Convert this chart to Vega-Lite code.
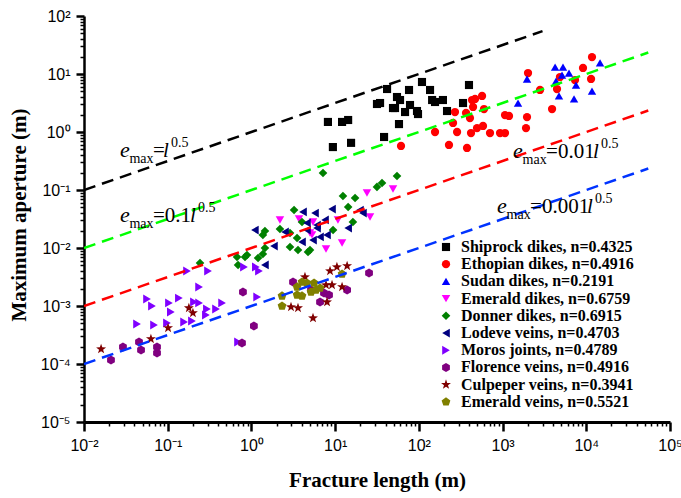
{
  "$schema": "https://vega.github.io/schema/vega-lite/v6.json",
  "width": 586,
  "height": 406,
  "autosize": {"type": "none"},
  "padding": {"left": 84, "top": 16, "right": 11, "bottom": 76},
  "background": "white",
  "config": {
    "view": {"stroke": null},
    "axis": {"domainColor": "black", "tickColor": "black", "labelColor": "black", "labelFont": "Liberation Sans", "labelFontSize": 16, "titleFont": "Liberation Serif", "titleFontSize": 21, "titleFontWeight": "bold", "titleColor": "black", "grid": false, "labelOverlap": false, "labelFlush": false},
    "legend": {"orient": "none", "legendX": 354, "legendY": 223, "padding": 0, "rowPadding": 1.2, "labelFont": "Liberation Serif", "labelFontWeight": "bold", "labelFontSize": 16, "labelColor": "black", "labelOffset": 7, "labelLimit": 0, "symbolStrokeWidth": 0}
  },
  "datasets": {
    "points": [
      {"s": "Shiprock dikes, n=0.4325", "l": 8.2, "e": 1.49},
      {"s": "Shiprock dikes, n=0.4325", "l": 9.4, "e": 0.55},
      {"s": "Shiprock dikes, n=0.4325", "l": 12.1, "e": 1.49},
      {"s": "Shiprock dikes, n=0.4325", "l": 14.3, "e": 1.61},
      {"s": "Shiprock dikes, n=0.4325", "l": 15.5, "e": 0.65},
      {"s": "Shiprock dikes, n=0.4325", "l": 31.6, "e": 3.04},
      {"s": "Shiprock dikes, n=0.4325", "l": 34.4, "e": 3.16},
      {"s": "Shiprock dikes, n=0.4325", "l": 41.7, "e": 5.51},
      {"s": "Shiprock dikes, n=0.4325", "l": 38.4, "e": 0.82},
      {"s": "Shiprock dikes, n=0.4325", "l": 51.9, "e": 2.59},
      {"s": "Shiprock dikes, n=0.4325", "l": 54.8, "e": 4.01},
      {"s": "Shiprock dikes, n=0.4325", "l": 57.9, "e": 1.37},
      {"s": "Shiprock dikes, n=0.4325", "l": 59.6, "e": 3.56},
      {"s": "Shiprock dikes, n=0.4325", "l": 68.4, "e": 2.21},
      {"s": "Shiprock dikes, n=0.4325", "l": 76.3, "e": 5.3},
      {"s": "Shiprock dikes, n=0.4325", "l": 78.4, "e": 2.92},
      {"s": "Shiprock dikes, n=0.4325", "l": 95, "e": 2.3},
      {"s": "Shiprock dikes, n=0.4325", "l": 97.7, "e": 2.04},
      {"s": "Shiprock dikes, n=0.4325", "l": 109, "e": 7.28},
      {"s": "Shiprock dikes, n=0.4325", "l": 136, "e": 5.3},
      {"s": "Shiprock dikes, n=0.4325", "l": 144, "e": 3.56},
      {"s": "Shiprock dikes, n=0.4325", "l": 156, "e": 3.29},
      {"s": "Shiprock dikes, n=0.4325", "l": 194, "e": 3.56},
      {"s": "Shiprock dikes, n=0.4325", "l": 217, "e": 2.3},
      {"s": "Shiprock dikes, n=0.4325", "l": 337, "e": 3.16},
      {"s": "Shiprock dikes, n=0.4325", "l": 397, "e": 6.46},
      {"s": "Shiprock dikes, n=0.4325", "l": 49.1, "e": 2.59},
      {"s": "Ethopian dikes, n=0.4916", "l": 61.2, "e": 0.574},
      {"s": "Ethopian dikes, n=0.4916", "l": 156, "e": 1.0},
      {"s": "Ethopian dikes, n=0.4916", "l": 229, "e": 0.597},
      {"s": "Ethopian dikes, n=0.4916", "l": 270, "e": 2.21},
      {"s": "Ethopian dikes, n=0.4916", "l": 256, "e": 1.43},
      {"s": "Ethopian dikes, n=0.4916", "l": 286, "e": 1.0},
      {"s": "Ethopian dikes, n=0.4916", "l": 376, "e": 0.53},
      {"s": "Ethopian dikes, n=0.4916", "l": 366, "e": 2.13},
      {"s": "Ethopian dikes, n=0.4916", "l": 408, "e": 1.74},
      {"s": "Ethopian dikes, n=0.4916", "l": 420, "e": 0.96},
      {"s": "Ethopian dikes, n=0.4916", "l": 432, "e": 3.56},
      {"s": "Ethopian dikes, n=0.4916", "l": 469, "e": 3.71},
      {"s": "Ethopian dikes, n=0.4916", "l": 444, "e": 2.7},
      {"s": "Ethopian dikes, n=0.4916", "l": 569, "e": 4.18},
      {"s": "Ethopian dikes, n=0.4916", "l": 600, "e": 2.49},
      {"s": "Ethopian dikes, n=0.4916", "l": 495, "e": 1.17},
      {"s": "Ethopian dikes, n=0.4916", "l": 584, "e": 1.27},
      {"s": "Ethopian dikes, n=0.4916", "l": 708, "e": 0.96},
      {"s": "Ethopian dikes, n=0.4916", "l": 933, "e": 0.96},
      {"s": "Ethopian dikes, n=0.4916", "l": 1069, "e": 0.96},
      {"s": "Ethopian dikes, n=0.4916", "l": 1069, "e": 1.96},
      {"s": "Ethopian dikes, n=0.4916", "l": 1194, "e": 1.89},
      {"s": "Ethopian dikes, n=0.4916", "l": 1959, "e": 1.81},
      {"s": "Ethopian dikes, n=0.4916", "l": 1905, "e": 1.17},
      {"s": "Ethopian dikes, n=0.4916", "l": 2014, "e": 10.4},
      {"s": "Ethopian dikes, n=0.4916", "l": 2800, "e": 5.3},
      {"s": "Ethopian dikes, n=0.4916", "l": 3900, "e": 2.49},
      {"s": "Ethopian dikes, n=0.4916", "l": 4470, "e": 5.51},
      {"s": "Ethopian dikes, n=0.4916", "l": 4850, "e": 8.87},
      {"s": "Ethopian dikes, n=0.4916", "l": 7330, "e": 7.88},
      {"s": "Ethopian dikes, n=0.4916", "l": 9140, "e": 12.7},
      {"s": "Ethopian dikes, n=0.4916", "l": 11400, "e": 8.2},
      {"s": "Ethopian dikes, n=0.4916", "l": 11700, "e": 19.6},
      {"s": "Sudan dikes, n=0.2191", "l": 1530, "e": 3.16},
      {"s": "Sudan dikes, n=0.2191", "l": 1959, "e": 8.2},
      {"s": "Sudan dikes, n=0.2191", "l": 4240, "e": 13.2},
      {"s": "Sudan dikes, n=0.2191", "l": 5270, "e": 13.2},
      {"s": "Sudan dikes, n=0.2191", "l": 6220, "e": 10.4},
      {"s": "Sudan dikes, n=0.2191", "l": 4350, "e": 7.57},
      {"s": "Sudan dikes, n=0.2191", "l": 5130, "e": 9.6},
      {"s": "Sudan dikes, n=0.2191", "l": 7540, "e": 6.46},
      {"s": "Sudan dikes, n=0.2191", "l": 4720, "e": 4.18},
      {"s": "Sudan dikes, n=0.2191", "l": 7140, "e": 3.71},
      {"s": "Sudan dikes, n=0.2191", "l": 11700, "e": 5.09},
      {"s": "Sudan dikes, n=0.2191", "l": 14600, "e": 15.5},
      {"s": "Emerald dikes, n=0.6759", "l": 2.19, "e": 0.0304},
      {"s": "Emerald dikes, n=0.6759", "l": 3.7, "e": 0.0316},
      {"s": "Emerald dikes, n=0.6759", "l": 5.3, "e": 0.0168},
      {"s": "Emerald dikes, n=0.6759", "l": 5.44, "e": 0.0281},
      {"s": "Emerald dikes, n=0.6759", "l": 24, "e": 0.0888},
      {"s": "Emerald dikes, n=0.6759", "l": 49.1, "e": 0.104},
      {"s": "Emerald dikes, n=0.6759", "l": 10.8, "e": 0.0304},
      {"s": "Emerald dikes, n=0.6759", "l": 26.1, "e": 0.0342},
      {"s": "Emerald dikes, n=0.6759", "l": 5.01, "e": 0.0181},
      {"s": "Emerald dikes, n=0.6759", "l": 12.1, "e": 0.0122},
      {"s": "Emerald dikes, n=0.6759", "l": 7.78, "e": 0.0096},
      {"s": "Donner dikes, n=0.6915", "l": 3.23, "e": 0.0452},
      {"s": "Donner dikes, n=0.6915", "l": 1.45, "e": 0.0196},
      {"s": "Donner dikes, n=0.6915", "l": 1.37, "e": 0.0168},
      {"s": "Donner dikes, n=0.6915", "l": 2.19, "e": 0.0213},
      {"s": "Donner dikes, n=0.6915", "l": 2.89, "e": 0.0104},
      {"s": "Donner dikes, n=0.6915", "l": 3.6, "e": 0.00924},
      {"s": "Donner dikes, n=0.6915", "l": 4.74, "e": 0.00853},
      {"s": "Donner dikes, n=0.6915", "l": 0.885, "e": 0.00757},
      {"s": "Donner dikes, n=0.6915", "l": 0.673, "e": 0.007},
      {"s": "Donner dikes, n=0.6915", "l": 1.45, "e": 0.01},
      {"s": "Donner dikes, n=0.6915", "l": 1.37, "e": 0.00788},
      {"s": "Donner dikes, n=0.6915", "l": 4.02, "e": 0.0281},
      {"s": "Donner dikes, n=0.6915", "l": 3.51, "e": 0.0149},
      {"s": "Donner dikes, n=0.6915", "l": 2.89, "e": 0.0181},
      {"s": "Donner dikes, n=0.6915", "l": 7.16, "e": 0.196},
      {"s": "Donner dikes, n=0.6915", "l": 54.8, "e": 0.174},
      {"s": "Donner dikes, n=0.6915", "l": 31.6, "e": 0.113},
      {"s": "Donner dikes, n=0.6915", "l": 36.3, "e": 0.132},
      {"s": "Donner dikes, n=0.6915", "l": 12.4, "e": 0.0788},
      {"s": "Donner dikes, n=0.6915", "l": 17.3, "e": 0.0728},
      {"s": "Donner dikes, n=0.6915", "l": 14.3, "e": 0.0509},
      {"s": "Donner dikes, n=0.6915", "l": 16.3, "e": 0.0281},
      {"s": "Donner dikes, n=0.6915", "l": 9.44, "e": 0.0204},
      {"s": "Donner dikes, n=0.6915", "l": 5.01, "e": 0.00924},
      {"s": "Donner dikes, n=0.6915", "l": 0.243, "e": 0.0055},
      {"s": "Donner dikes, n=0.6915", "l": 0.692, "e": 0.0051},
      {"s": "Donner dikes, n=0.6915", "l": 0.838, "e": 0.007},
      {"s": "Donner dikes, n=0.6915", "l": 1.2, "e": 0.00673},
      {"s": "Lodeve veins, n=0.4703", "l": 1.1, "e": 0.0204},
      {"s": "Lodeve veins, n=0.4703", "l": 1.86, "e": 0.0108},
      {"s": "Lodeve veins, n=0.4703", "l": 2.52, "e": 0.0189},
      {"s": "Lodeve veins, n=0.4703", "l": 4.13, "e": 0.0418},
      {"s": "Lodeve veins, n=0.4703", "l": 5.75, "e": 0.0401},
      {"s": "Lodeve veins, n=0.4703", "l": 4.61, "e": 0.027},
      {"s": "Lodeve veins, n=0.4703", "l": 4.02, "e": 0.0127},
      {"s": "Lodeve veins, n=0.4703", "l": 5.44, "e": 0.0137},
      {"s": "Lodeve veins, n=0.4703", "l": 4.61, "e": 0.0204},
      {"s": "Lodeve veins, n=0.4703", "l": 6.07, "e": 0.0249},
      {"s": "Lodeve veins, n=0.4703", "l": 9.18, "e": 0.047},
      {"s": "Lodeve veins, n=0.4703", "l": 19.8, "e": 0.0452},
      {"s": "Lodeve veins, n=0.4703", "l": 21.5, "e": 0.0401},
      {"s": "Lodeve veins, n=0.4703", "l": 7.57, "e": 0.0304},
      {"s": "Lodeve veins, n=0.4703", "l": 6.07, "e": 0.0221},
      {"s": "Lodeve veins, n=0.4703", "l": 8.0, "e": 0.0168},
      {"s": "Lodeve veins, n=0.4703", "l": 14.3, "e": 0.0221},
      {"s": "Lodeve veins, n=0.4703", "l": 6.6, "e": 0.0155},
      {"s": "Lodeve veins, n=0.4703", "l": 1.45, "e": 0.0051},
      {"s": "Moros joints, n=0.4789", "l": 0.17, "e": 0.00401},
      {"s": "Moros joints, n=0.4789", "l": 0.303, "e": 0.00401},
      {"s": "Moros joints, n=0.4789", "l": 0.237, "e": 0.00213},
      {"s": "Moros joints, n=0.4789", "l": 0.0566, "e": 0.00132},
      {"s": "Moros joints, n=0.4789", "l": 0.0649, "e": 0.001},
      {"s": "Moros joints, n=0.4789", "l": 0.1035, "e": 0.00113},
      {"s": "Moros joints, n=0.4789", "l": 0.136, "e": 0.00137},
      {"s": "Moros joints, n=0.4789", "l": 0.109, "e": 0.000788},
      {"s": "Moros joints, n=0.4789", "l": 0.206, "e": 0.00117},
      {"s": "Moros joints, n=0.4789", "l": 0.237, "e": 0.00113},
      {"s": "Moros joints, n=0.4789", "l": 0.294, "e": 0.000887},
      {"s": "Moros joints, n=0.4789", "l": 0.378, "e": 0.000887},
      {"s": "Moros joints, n=0.4789", "l": 0.446, "e": 0.00113},
      {"s": "Moros joints, n=0.4789", "l": 0.286, "e": 0.0007},
      {"s": "Moros joints, n=0.4789", "l": 0.043, "e": 0.00049},
      {"s": "Moros joints, n=0.4789", "l": 0.0686, "e": 0.00047},
      {"s": "Moros joints, n=0.4789", "l": 0.098, "e": 0.00051},
      {"s": "Moros joints, n=0.4789", "l": 0.157, "e": 0.00053},
      {"s": "Moros joints, n=0.4789", "l": 0.195, "e": 0.00055},
      {"s": "Moros joints, n=0.4789", "l": 0.692, "e": 0.000239},
      {"s": "Moros joints, n=0.4789", "l": 1.17, "e": 0.00143},
      {"s": "Moros joints, n=0.4789", "l": 0.815, "e": 0.0047},
      {"s": "Moros joints, n=0.4789", "l": 1.13, "e": 0.0047},
      {"s": "Moros joints, n=0.4789", "l": 1.23, "e": 0.00401},
      {"s": "Florence veins, n=0.4916", "l": 0.021, "e": 0.000117},
      {"s": "Florence veins, n=0.4916", "l": 0.0292, "e": 0.000196},
      {"s": "Florence veins, n=0.4916", "l": 0.0454, "e": 0.000239},
      {"s": "Florence veins, n=0.4916", "l": 0.048, "e": 0.000174},
      {"s": "Florence veins, n=0.4916", "l": 0.0745, "e": 0.000196},
      {"s": "Florence veins, n=0.4916", "l": 0.0745, "e": 0.000155},
      {"s": "Florence veins, n=0.4916", "l": 0.792, "e": 0.00174},
      {"s": "Florence veins, n=0.4916", "l": 0.771, "e": 0.00023},
      {"s": "Florence veins, n=0.4916", "l": 1.07, "e": 0.000452},
      {"s": "Florence veins, n=0.4916", "l": 3.14, "e": 0.00259},
      {"s": "Florence veins, n=0.4916", "l": 5.15, "e": 0.00189},
      {"s": "Florence veins, n=0.4916", "l": 6.6, "e": 0.00117},
      {"s": "Florence veins, n=0.4916", "l": 7.36, "e": 0.00168},
      {"s": "Florence veins, n=0.4916", "l": 8.45, "e": 0.00155},
      {"s": "Florence veins, n=0.4916", "l": 13.9, "e": 0.00189},
      {"s": "Florence veins, n=0.4916", "l": 25.4, "e": 0.00371},
      {"s": "Culpeper veins, n=0.3941", "l": 0.016, "e": 0.000181},
      {"s": "Culpeper veins, n=0.3941", "l": 0.063, "e": 0.00027},
      {"s": "Culpeper veins, n=0.3941", "l": 0.101, "e": 0.000418},
      {"s": "Culpeper veins, n=0.3941", "l": 0.179, "e": 0.000924},
      {"s": "Culpeper veins, n=0.3941", "l": 0.2, "e": 0.000757},
      {"s": "Culpeper veins, n=0.3941", "l": 2.97, "e": 0.00096},
      {"s": "Culpeper veins, n=0.3941", "l": 3.6, "e": 0.000924},
      {"s": "Culpeper veins, n=0.3941", "l": 5.44, "e": 0.00062},
      {"s": "Culpeper veins, n=0.3941", "l": 4.36, "e": 0.00316},
      {"s": "Culpeper veins, n=0.3941", "l": 8.0, "e": 0.00117},
      {"s": "Culpeper veins, n=0.3941", "l": 8.69, "e": 0.00401},
      {"s": "Culpeper veins, n=0.3941", "l": 10.5, "e": 0.0047},
      {"s": "Culpeper veins, n=0.3941", "l": 13.9, "e": 0.0049},
      {"s": "Culpeper veins, n=0.3941", "l": 7.78, "e": 0.0023},
      {"s": "Culpeper veins, n=0.3941", "l": 9.18, "e": 0.0023},
      {"s": "Culpeper veins, n=0.3941", "l": 12.1, "e": 0.00213},
      {"s": "Emerald veins, n=0.5521", "l": 2.32, "e": 0.00149},
      {"s": "Emerald veins, n=0.5521", "l": 2.32, "e": 0.001},
      {"s": "Emerald veins, n=0.5521", "l": 3.51, "e": 0.00213},
      {"s": "Emerald veins, n=0.5521", "l": 4.02, "e": 0.00259},
      {"s": "Emerald veins, n=0.5521", "l": 3.51, "e": 0.00155},
      {"s": "Emerald veins, n=0.5521", "l": 4.02, "e": 0.00149},
      {"s": "Emerald veins, n=0.5521", "l": 4.61, "e": 0.00249},
      {"s": "Emerald veins, n=0.5521", "l": 5.6, "e": 0.00249},
      {"s": "Emerald veins, n=0.5521", "l": 5.9, "e": 0.00189},
      {"s": "Emerald veins, n=0.5521", "l": 6.6, "e": 0.00204},
      {"s": "Emerald veins, n=0.5521", "l": 12.1, "e": 0.00356},
      {"s": "Emerald veins, n=0.5521", "l": 5.15, "e": 0.00174}
    ],
    "lines": [
      {"fit": "l^0.5", "l": 0.01, "e": 0.1},
      {"fit": "l^0.5", "l": 3000, "e": 54.77},
      {"fit": "0.1l^0.5", "l": 0.01, "e": 0.01},
      {"fit": "0.1l^0.5", "l": 55000, "e": 23.45},
      {"fit": "0.01l^0.5", "l": 0.01, "e": 0.001},
      {"fit": "0.01l^0.5", "l": 55000, "e": 2.345},
      {"fit": "0.001l^0.5", "l": 0.01, "e": 0.0001},
      {"fit": "0.001l^0.5", "l": 55000, "e": 0.2345}
    ],
    "ann": [
      {"l": 0.0269, "e": 0.371, "coef": "="},
      {"l": 0.0269, "e": 0.0281, "coef": "=0.1"},
      {"l": 1334, "e": 0.356, "coef": "=0.01"},
      {"l": 859, "e": 0.0401, "coef": "=0.001"}
    ],
    "annl": [
      {"l": 0.088, "e": 0.371},
      {"l": 0.1846, "e": 0.0281},
      {"l": 12030, "e": 0.356},
      {"l": 10200, "e": 0.0401}
    ]
  },
  "encoding": {
    "x": {
      "field": "l", "type": "quantitative",
      "scale": {"type": "log", "domain": [0.01, 100000], "nice": false},
      "axis": {
        "title": "Fracture length (m)",
        "values": [0.01,0.02,0.03,0.04,0.05,0.06,0.07,0.08,0.09,0.1,0.2,0.3,0.4,0.5,0.6,0.7,0.8,0.9,1,2,3,4,5,6,7,8,9,10,20,30,40,50,60,70,80,90,100,200,300,400,500,600,700,800,900,1000,2000,3000,4000,5000,6000,7000,8000,9000,10000,20000,30000,40000,50000,60000,70000,80000,90000,100000],
        "labelExpr": "datum.value == 0.01 ? '10⁻²' : datum.value == 0.1 ? '10⁻¹' : datum.value == 1 ? '10⁰' : datum.value == 10 ? '10¹' : datum.value == 100 ? '10²' : datum.value == 1000 ? '10³' : datum.value == 10000 ? '10⁴' : datum.value == 100000 ? '10⁵' : ''",
        "tickSize": {"condition": {"test": "abs(log(datum.value)/LN10 - round(log(datum.value)/LN10)) < 0.001", "value": 9}, "value": 4},
        "tickWidth": {"condition": {"test": "abs(log(datum.value)/LN10 - round(log(datum.value)/LN10)) < 0.001", "value": 2.5}, "value": 1.5},
        "domainWidth": 3,
        "labelPadding": 6,
        "titleY": 64,
        "titleBaseline": "alphabetic"
      }
    },
    "y": {
      "field": "e", "type": "quantitative",
      "scale": {"type": "log", "domain": [0.00001, 100], "nice": false},
      "axis": {
        "title": "Maximum aperture (m)",
        "values": [0.00001,0.00002,0.00003,0.00004,0.00005,0.00006,0.00007,0.00008,0.00009,0.0001,0.0002,0.0003,0.0004,0.0005,0.0006,0.0007,0.0008,0.0009,0.001,0.002,0.003,0.004,0.005,0.006,0.007,0.008,0.009,0.01,0.02,0.03,0.04,0.05,0.06,0.07,0.08,0.09,0.1,0.2,0.3,0.4,0.5,0.6,0.7,0.8,0.9,1,2,3,4,5,6,7,8,9,10,20,30,40,50,60,70,80,90,100],
        "labelExpr": "datum.value == 0.00001 ? '10⁻⁵' : datum.value == 0.0001 ? '10⁻⁴' : datum.value == 0.001 ? '10⁻³' : datum.value == 0.01 ? '10⁻²' : datum.value == 0.1 ? '10⁻¹' : datum.value == 1 ? '10⁰' : datum.value == 10 ? '10¹' : datum.value == 100 ? '10²' : ''",
        "tickSize": {"condition": {"test": "abs(log(datum.value)/LN10 - round(log(datum.value)/LN10)) < 0.001", "value": 8}, "value": 4},
        "tickWidth": {"condition": {"test": "abs(log(datum.value)/LN10 - round(log(datum.value)/LN10)) < 0.001", "value": 2.5}, "value": 1.5},
        "domainWidth": 2.5,
        "labelPadding": 6,
        "titleX": -59,
        "titleY": 198.5,
        "titleAngle": -90,
        "titleAlign": "center",
        "titleBaseline": "alphabetic"
      }
    }
  },
  "layer": [
    {
      "data": {"name": "points"},
      "mark": {"type": "point", "filled": true, "opacity": 1, "strokeWidth": 0},
      "encoding": {
        "color": {
          "field": "s", "type": "nominal", "title": null,
          "scale": {
            "domain": ["Shiprock dikes, n=0.4325", "Ethopian dikes, n=0.4916", "Sudan dikes, n=0.2191", "Emerald dikes, n=0.6759", "Donner dikes, n=0.6915", "Lodeve veins, n=0.4703", "Moros joints, n=0.4789", "Florence veins, n=0.4916", "Culpeper veins, n=0.3941", "Emerald veins, n=0.5521"],
            "range": ["#000000", "#ff0000", "#0000ff", "#ff00ff", "#008000", "#000080", "#8000ff", "#800080", "#800000", "#808000"]
          }
        },
        "shape": {
          "field": "s", "type": "nominal", "title": null,
          "scale": {
            "domain": ["Shiprock dikes, n=0.4325", "Ethopian dikes, n=0.4916", "Sudan dikes, n=0.2191", "Emerald dikes, n=0.6759", "Donner dikes, n=0.6915", "Lodeve veins, n=0.4703", "Moros joints, n=0.4789", "Florence veins, n=0.4916", "Culpeper veins, n=0.3941", "Emerald veins, n=0.5521"],
            "range": ["square", "circle", "triangle-up", "triangle-down", "diamond", "triangle-left", "triangle-right", "M0,-1L0.866,-0.5L0.866,0.5L0,1L-0.866,0.5L-0.866,-0.5Z", "M0,-1.15L0.27,-0.37L1.09,-0.36L0.44,0.14L0.68,0.93L0,0.46L-0.68,0.93L-0.44,0.14L-1.09,-0.36L-0.27,-0.37Z", "M0,-1L0.951,-0.309L0.588,0.809L-0.588,0.809L-0.951,-0.309Z"]
          }
        },
        "size": {
          "field": "s", "type": "nominal", "title": null,
          "scale": {
            "domain": ["Shiprock dikes, n=0.4325", "Ethopian dikes, n=0.4916", "Sudan dikes, n=0.2191", "Emerald dikes, n=0.6759", "Donner dikes, n=0.6915", "Lodeve veins, n=0.4703", "Moros joints, n=0.4789", "Florence veins, n=0.4916", "Culpeper veins, n=0.3941", "Emerald veins, n=0.5521"],
            "range": [66, 85, 115, 115, 105, 115, 115, 85, 125, 95]
          }
        }
      }
    },
    {
      "data": {"name": "lines"},
      "mark": {"type": "line", "strokeDash": [12, 7], "strokeWidth": 2.5, "clip": true},
      "encoding": {
        "stroke": {
          "field": "fit", "type": "nominal", "legend": null,
          "scale": {"domain": ["l^0.5", "0.1l^0.5", "0.01l^0.5", "0.001l^0.5"], "range": ["#000000", "#00ff00", "#ff0000", "#0033ff"]}
        }
      }
    },
    {
      "data": {"name": "ann"},
      "mark": {"type": "text", "text": "e", "align": "left", "baseline": "alphabetic", "font": "Liberation Serif", "fontStyle": "italic", "fontSize": 22, "color": "black"}
    },
    {
      "data": {"name": "ann"},
      "mark": {"type": "text", "text": "max", "align": "left", "baseline": "alphabetic", "font": "Liberation Serif", "fontSize": 14, "dx": 9.5, "dy": 6, "color": "black"}
    },
    {
      "data": {"name": "ann"},
      "mark": {"type": "text", "align": "left", "baseline": "alphabetic", "font": "Liberation Serif", "fontSize": 21, "dx": 33, "color": "black"},
      "encoding": {"text": {"field": "coef"}}
    },
    {
      "data": {"name": "annl"},
      "mark": {"type": "text", "text": "l", "align": "left", "baseline": "alphabetic", "font": "Liberation Serif", "fontStyle": "italic", "fontSize": 21, "color": "black"}
    },
    {
      "data": {"name": "annl"},
      "mark": {"type": "text", "text": "0.5", "align": "left", "baseline": "alphabetic", "font": "Liberation Serif", "fontSize": 14, "dx": 8, "dy": -10, "color": "black"}
    }
  ]
}
